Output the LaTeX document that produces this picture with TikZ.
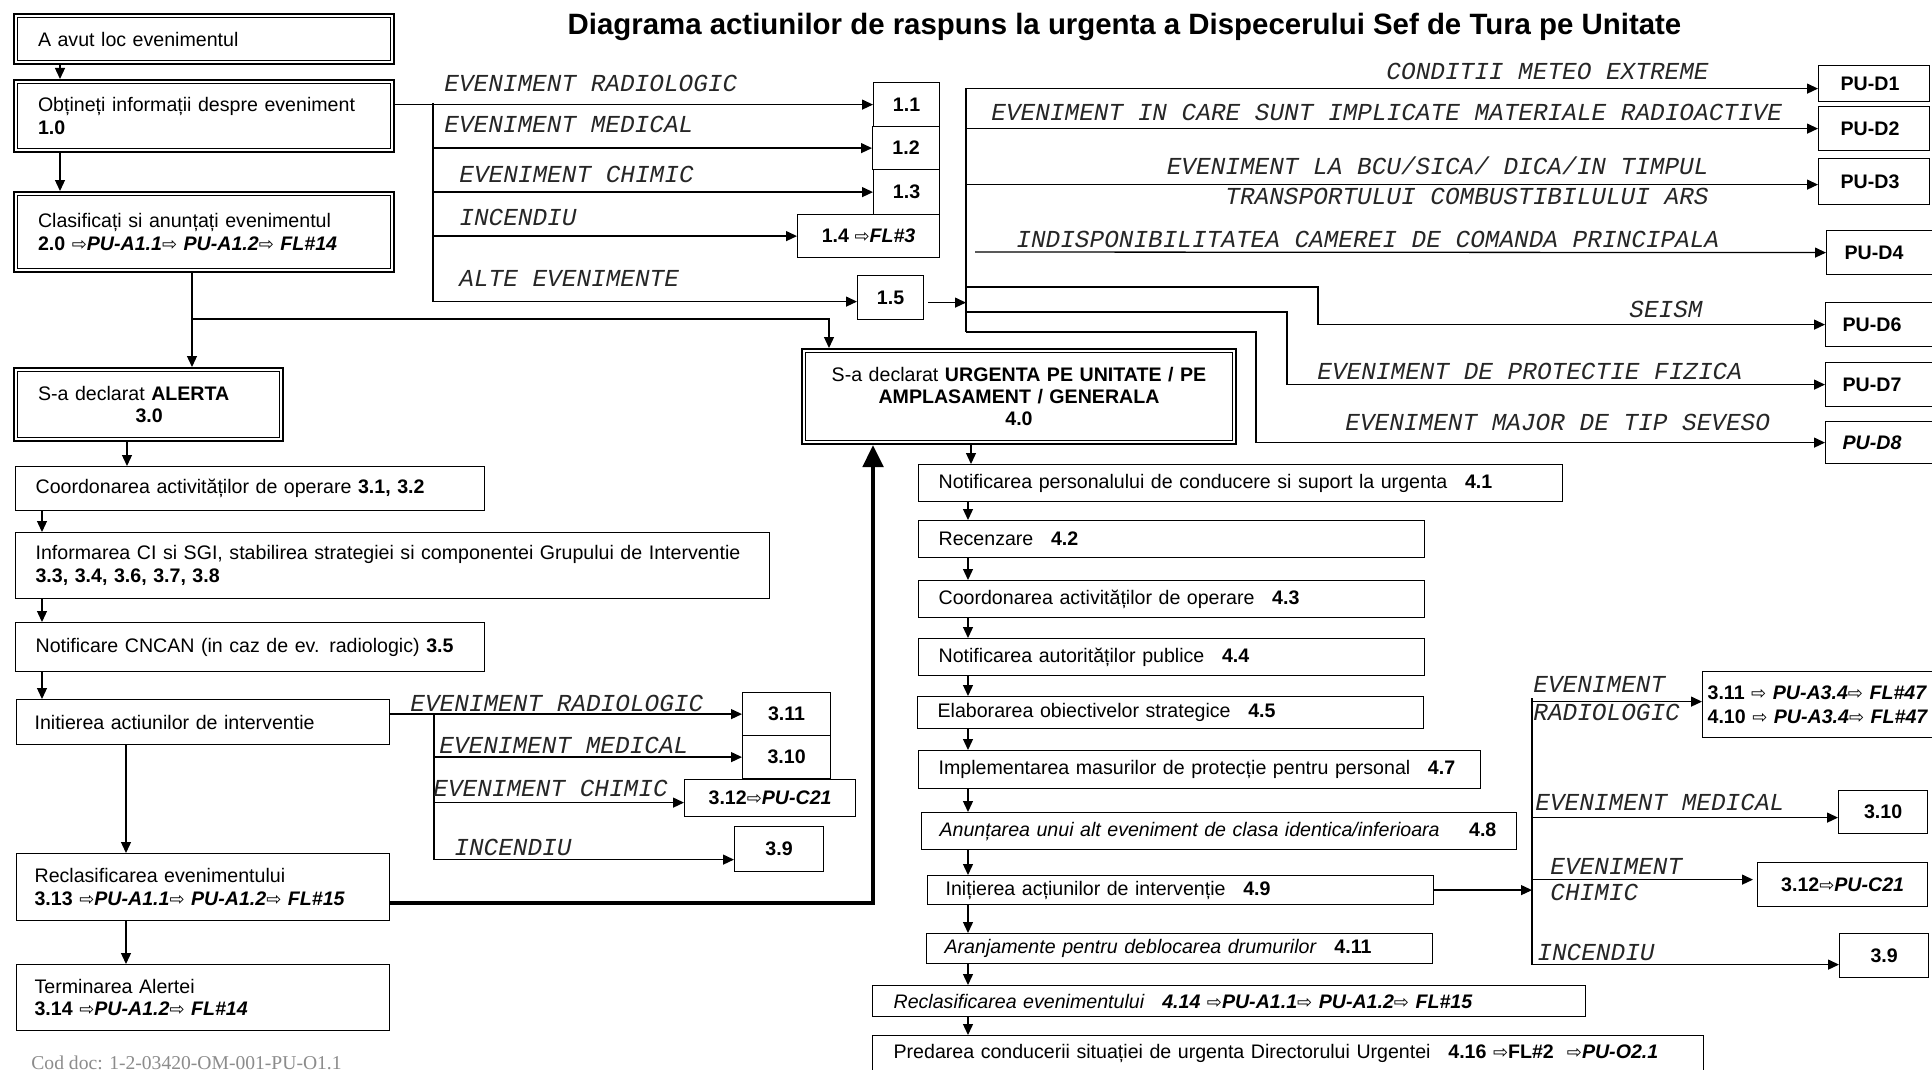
\documentclass[tikz,border=0pt]{standalone}
\usepackage{fontspec}
\setmainfont{Liberation Sans}
\newfontfamily\lblfont{Liberation Mono}
\newfontfamily\serfont{Liberation Serif}
\newfontfamily\symfont{DejaVu Sans}
\usetikzlibrary{arrows.meta}
\definecolor{codgray}{RGB}{140,140,140}
\newcommand{\wra}{{\symfont\mdseries\upshape\fontsize{9pt}{9pt}\selectfont\char"21E8}}
\newcommand{\innerbox}[1]{\draw[line width=0.5pt] ([shift={(2.25pt,-2.25pt)}]#1.north west) rectangle ([shift={(-2.25pt,2.25pt)}]#1.south east);}
\tikzset{
  every node/.style={font=\fontsize{9.8pt}{11.2pt}\selectfont},
  bx/.style n args={3}{draw, line width=0.6pt, anchor=north west, inner ysep=0pt, align=left,
     minimum height=#1, text width=#2, inner xsep=#3},
  sb/.style n args={2}{draw, line width=0.6pt, anchor=north west, inner sep=0pt, align=center,
     minimum width=#1, minimum height=#2, font=\fontsize{9.8pt}{11.2pt}\selectfont\bfseries},
  dbl/.style={line width=1pt},
  lbl/.style={inner sep=0pt, text=black!85, font=\lblfont\itshape\fontsize{12.2pt}{14pt}\selectfont},
  arr/.style={line width=0.65pt, -{Triangle[length=5.5pt,width=5pt]}},
  ln/.style={line width=0.65pt},
  thickarr/.style={line width=2.4pt, -{Triangle[length=11pt,width=10pt]}}
}
\begin{document}
\begin{tikzpicture}[x=0.5pt,y=-0.5pt]
\useasboundingbox (0,0) rectangle (1932,1070);
\clip (0,0) rectangle (1932,1070);
\fill[white] (0,0) rectangle (1932,1070);

% title
\node[anchor=base, font=\bfseries\fontsize{14.7pt}{16pt}\selectfont] (title) at (1124.5,35)
  {Diagrama actiunilor de raspuns la urgenta a Dispecerului Sef de Tura pe Unitate};

% ---------------- left column
\node[bx={25pt}{166pt}{12pt}, dbl] (n0) at (13,13) {A avut loc evenimentul};
\node[bx={36pt}{166pt}{12pt}, dbl] (n1) at (13,79) {Obțineți informații despre eveniment\\\textbf{1.0}};
\node[bx={40pt}{166pt}{12pt}, dbl] (n2) at (13,191) {Clasificați si anunțați evenimentul\\\textbf{2.0 \wra\textit{PU-A1.1}\wra\ \textit{PU-A1.2}\wra\ \textit{FL\#14}}};
\node[bx={36.5pt}{110.5pt}{12pt}, dbl] (n3) at (13,367) {S-a declarat \textbf{ALERTA}\\\hspace*{48.75pt}\textbf{3.0}};
\innerbox{n0}\innerbox{n1}\innerbox{n2}\innerbox{n3}
\node[bx={22pt}{214.5pt}{10pt}] (n4) at (15,466) {Coordonarea activităților de operare \textbf{3.1, 3.2}};
\node[bx={33pt}{357pt}{10pt}] (n5) at (15,532) {Informarea CI si SGI, stabilirea strategiei si componentei Grupului de Interventie\\\textbf{3.3, 3.4, 3.6, 3.7, 3.8}};
\node[bx={24.5pt}{214.5pt}{10pt}] (n6) at (15,622) {Notificare CNCAN (in caz de ev. radiologic) \textbf{3.5}};
\node[bx={22.5pt}{168.5pt}{9pt}] (n7) at (16,699) {Initierea actiunilor de interventie};
\node[bx={33.5pt}{168.5pt}{9pt}] (n8) at (16,853) {Reclasificarea evenimentului\\\textbf{3.13 \wra\textit{PU-A1.1}\wra\ \textit{PU-A1.2}\wra\ \textit{FL\#15}}};
\node[bx={33pt}{168.5pt}{9pt}] (n9) at (16,964) {Terminarea Alertei\\\textbf{3.14 \wra\textit{PU-A1.2}\wra\ \textit{FL\#14}}};
\node[anchor=base west, inner sep=0pt, text=codgray, font=\serfont\fontsize{9.8pt}{11pt}\selectfont] (cod) at (31,1069) {Cod doc: 1-2-03420-OM-001-PU-O1.1};

% top boxes 1.x
\node[sb={33pt}{22pt}] (n11) at (873,82) {1.1};
\node[sb={33.5pt}{21.5pt}] (n12) at (872,126) {1.2};
\node[sb={33pt}{22.5pt}] (n13) at (873,169) {1.3};
\node[sb={71pt}{21.5pt}] (n14) at (797,214) {1.4 \wra\textit{FL\#3}};
\node[sb={33pt}{22pt}] (n15) at (857,275) {1.5};

% 3.x boxes (left)
\node[sb={44pt}{21.5pt}] (n311) at (742,692) {3.11};
\node[sb={44pt}{21.5pt}] (n310) at (742,735) {3.10};
\node[sb={85.5pt}{18.5pt}] (n312) at (684,779) {\raisebox{-3pt}{3.12\wra\textit{PU-C21}}};
\node[sb={44.5pt}{22.5pt}] (n39) at (734,826) {3.9};

% 4.0 and chain
\node[bx={47.5pt}{207pt}{5pt}, dbl, align=center] (n40) at (801,348) {S-a declarat \textbf{URGENTA PE UNITATE / PE}\\\textbf{AMPLASAMENT / GENERALA}\\\textbf{4.0}};
\innerbox{n40}
\node[bx={18.5pt}{302pt}{10pt}] (n41) at (918,464) {Notificarea personalului de conducere si suport la urgenta\hspace{0.9em}\textbf{4.1}};
\node[bx={18.5pt}{233pt}{10pt}] (n42) at (918,520) {Recenzare\hspace{0.9em}\textbf{4.2}};
\node[bx={18.5pt}{233pt}{10pt}] (n43) at (918,580) {Coordonarea activităților de operare\hspace{0.9em}\textbf{4.3}};
\node[bx={18.5pt}{233pt}{10pt}] (n44) at (918,638) {Notificarea autorităților publice\hspace{0.9em}\textbf{4.4}};
\node[bx={16pt}{233pt}{10pt}] (n45) at (917,696) {Elaborarea obiectivelor strategice\hspace{0.9em}\textbf{4.5}};
\node[bx={19pt}{261pt}{10pt}] (n47) at (918,750) {Implementarea masurilor de protecție pentru personal\hspace{0.9em}\textbf{4.7}};
\node[bx={18.5pt}{279.5pt}{9pt}] (n48) at (921,812) {\textit{Anunțarea unui alt eveniment de clasa identica/inferioara}\hspace{1.5em}\textbf{4.8}};
\node[bx={14.5pt}{235pt}{9pt}] (n49) at (927,875) {Inițierea acțiunilor de intervenție\hspace{0.9em}\textbf{4.9}};
\node[bx={15pt}{235pt}{9pt}] (n411) at (926,933) {\textit{Aranjamente pentru deblocarea drumurilor}\hspace{0.9em}\textbf{4.11}};
\node[bx={15.5pt}{335.5pt}{10.5pt}] (n414) at (872,985) {\textit{Reclasificarea evenimentului}\hspace{0.9em}\textbf{\textit{4.14 \wra PU-A1.1\wra\ PU-A1.2\wra\ FL\#15}}};
\node[bx={18pt}{394.5pt}{10.5pt}] (n416) at (872,1035) {Predarea conducerii situației de urgenta Directorului Urgentei\hspace{0.9em}\textbf{4.16 \wra FL\#2 \ \wra\textit{PU-O2.1}}};

% right boxes (4.9 branches)
\node[bx={33pt}{145pt}{2.5pt}, font=\fontsize{9.8pt}{12pt}\selectfont\bfseries] (n311r) at (1702,671) {3.11 \wra\ \textit{PU-A3.4}\wra\ \textit{FL\#47}\\4.10 \wra\ \textit{PU-A3.4}\wra\ \textit{FL\#47}};
\node[sb={44.5pt}{21.5pt}] (n310r) at (1838,790) {3.10};
\node[sb={85pt}{22pt}] (n312r) at (1757,862) {3.12\wra\textit{PU-C21}};
\node[sb={44.5pt}{22pt}] (n39r) at (1839,933) {3.9};

% PU-D boxes
\node[bx={18pt}{33.5pt}{11pt}, font=\fontsize{9.8pt}{11.2pt}\selectfont\bfseries] (nD1) at (1818,65) {PU-D1};
\node[bx={22pt}{33.5pt}{11pt}, font=\fontsize{9.8pt}{11.2pt}\selectfont\bfseries] (nD2) at (1818,106) {PU-D2};
\node[bx={23pt}{33.5pt}{11pt}, font=\fontsize{9.8pt}{11.2pt}\selectfont\bfseries] (nD3) at (1818,158) {PU-D3};
\node[bx={22pt}{47pt}{9pt}, font=\fontsize{9.8pt}{11.2pt}\selectfont\bfseries] (nD4) at (1826,230) {PU-D4};
\node[bx={22pt}{48pt}{8.5pt}, font=\fontsize{9.8pt}{11.2pt}\selectfont\bfseries] (nD6) at (1825,302) {PU-D6};
\node[bx={22pt}{48pt}{8.5pt}, font=\fontsize{9.8pt}{11.2pt}\selectfont\bfseries] (nD7) at (1825,362) {PU-D7};
\node[bx={21pt}{48pt}{8.5pt}, font=\fontsize{9.8pt}{11.2pt}\selectfont\bfseries\itshape] (nD8) at (1825,421) {PU-D8};

% ---------------- connectors, left column
\coordinate (x60) at (60,0);
\draw[arr] (n0.south -| x60) -- (n1.north -| x60);
\draw[arr] (n1.south -| x60) -- (n2.north -| x60);
\coordinate (j1) at (192,319);
\coordinate (j2) at (829,319);
\draw[ln] (n2.south -| j1) -- (j1);
\draw[arr] (j1) -- (n3.north -| j1);
\draw[arr] (j1) -- (j2) -- (n40.north -| j2);
\coordinate (x127) at (127,0);
\draw[arr] (n3.south -| x127) -- (n4.north -| x127);
\coordinate (x42) at (42,0);
\draw[arr] (n4.south -| x42) -- (n5.north -| x42);
\draw[arr] (n5.south -| x42) -- (n6.north -| x42);
\draw[arr] (n6.south -| x42) -- (n7.north -| x42);
\coordinate (x126) at (126,0);
\draw[arr] (n7.south -| x126) -- (n8.north -| x126);
\draw[arr] (n8.south -| x126) -- (n9.north -| x126);
\coordinate (t2) at (873,903);
\draw[thickarr] (n8.east |- t2) -- (t2) -- (n40.south -| t2);

% 1.x branches
\coordinate (v1) at (433,103);
\coordinate (e15w) at ([yshift=-2pt]n15.west);
\draw[arr] (n1.east |- n11.west) -- (n11.west);
\draw[ln] (v1) -- (v1 |- e15w);
\draw[arr] (v1 |- n12.west) -- (n12.west);
\draw[arr] (v1 |- n13.west) -- (n13.west);
\draw[arr] (v1 |- n14.west) -- (n14.west);
\draw[arr] (v1 |- e15w) -- (e15w);
\node[lbl, anchor=base west] (l11) at (444,92) {EVENIMENT RADIOLOGIC};
\node[lbl, anchor=base west] (l12) at (444,133) {EVENIMENT MEDICAL};
\node[lbl, anchor=base west] (l13) at (459,183) {EVENIMENT CHIMIC};
\node[lbl, anchor=base west] (l14) at (459,225) {INCENDIU};
\node[lbl, anchor=base west] (l15) at (459,286) {ALTE EVENIMENTE};

% PU-D branches
\coordinate (v2t) at (966,88);
\coordinate (s8) at (966,332);
\coordinate (e15e) at ([yshift=-2.5pt]n15.east);
\draw[arr] ([xshift=2pt]e15e) -- (e15e -| v2t);
\draw[ln] (v2t) -- (s8);
\coordinate (eD1) at ([yshift=-2.5pt]nD1.west);
\draw[arr] (v2t |- eD1) -- (eD1);
\draw[arr] (v2t |- nD2.west) -- (nD2.west);
\coordinate (eD3) at ([yshift=-1.5pt]nD3.west);
\draw[arr] (v2t |- eD3) -- (eD3);
\coordinate (d4s) at (975,252);
\draw[arr] (d4s) -- (nD4.west);
\coordinate (s6) at (966,287); \coordinate (k6) at (1318,287);
\draw[arr] (s6) -- (k6) |- (nD6.west);
\coordinate (s7) at (966,312); \coordinate (k7) at (1287,312);
\draw[arr] (s7) -- (k7) |- (nD7.west);
\coordinate (k8) at (1256,332);
\draw[arr] (s8) -- (k8) |- (nD8.west);
\node[lbl, anchor=base east] (lD1) at (1709,80) {CONDITII METEO EXTREME};
\node[lbl, anchor=base west] (lD2) at (991,120) {EVENIMENT IN CARE SUNT IMPLICATE MATERIALE RADIOACTIVE};
\node[lbl, anchor=base east] (lD3a) at (1709,175) {EVENIMENT LA BCU/SICA/ DICA/IN TIMPUL};
\node[lbl, anchor=base east] (lD3b) at (1709,204) {TRANSPORTULUI COMBUSTIBILULUI ARS};
\node[lbl, anchor=base west] (lD4) at (1016,247) {INDISPONIBILITATEA CAMEREI DE COMANDA PRINCIPALA};
\node[lbl, anchor=base east] (lD6) at (1703,317) {SEISM};
\node[lbl, anchor=base west] (lD7) at (1317,379) {EVENIMENT DE PROTECTIE FIZICA};
\node[lbl, anchor=base west] (lD8) at (1345,430) {EVENIMENT MAJOR DE TIP SEVESO};

% 4.x chain arrows
\coordinate (x971) at (971,0);
\coordinate (x968) at (968,0);
\draw[arr] (n40.south -| x971) -- (n41.north -| x971);
\foreach \a/\b in {n41/n42,n42/n43,n43/n44,n44/n45,n45/n47,n47/n48,n48/n49,n49/n411,n411/n414,n414/n416}
  \draw[arr] (\a.south -| x968) -- (\b.north -| x968);

% 3.x branches (left)
\coordinate (v3t) at (434,713);
\coordinate (e312) at ([yshift=-2.25pt]n312.west);
\coordinate (e39) at ([yshift=-5.25pt]n39.west);
\draw[arr] (n7.east |- n311.west) -- (n311.west);
\draw[ln] (v3t) -- (v3t |- e39);
\draw[arr] (v3t |- n310.west) -- (n310.west);
\draw[arr] (v3t |- e312) -- (e312);
\draw[arr] (v3t |- e39) -- (e39);
\node[lbl, anchor=base west] (l311) at (410,711) {EVENIMENT RADIOLOGIC};
\node[lbl, anchor=base west] (l310) at (439,753) {EVENIMENT MEDICAL};
\node[lbl, anchor=base west] (l312) at (433,796) {EVENIMENT CHIMIC};
\node[lbl, anchor=base west] (l39) at (454,855) {INCENDIU};

% 4.9 branches (right)
\coordinate (v4t) at (1532,698);
\coordinate (e311r) at ([yshift=1.5pt]n311r.west);
\coordinate (e310r) at ([yshift=-2.75pt]n310r.west);
\coordinate (e312r) at ([yshift=2.5pt]n312r.west);
\coordinate (e39r) at ([yshift=-4.5pt]n39r.west);
\draw[arr] (n49.east) -- (n49.east -| v4t);
\draw[ln] (v4t) -- (v4t |- e39r);
\draw[arr] (v4t |- e311r) -- (e311r);
\draw[arr] (v4t |- e310r) -- (e310r);
\draw[arr] (v4t |- e312r) -- ([xshift=-2pt]e312r);
\draw[arr] (v4t |- e39r) -- (e39r);
\node[lbl, anchor=base west] (r1a) at (1533,692) {EVENIMENT};
\node[lbl, anchor=base west] (r1b) at (1533,720) {RADIOLOGIC};
\node[lbl, anchor=base west] (r2) at (1535,810) {EVENIMENT MEDICAL};
\node[lbl, anchor=base west] (r3a) at (1550,874) {EVENIMENT};
\node[lbl, anchor=base west] (r3b) at (1550,900) {CHIMIC};
\node[lbl, anchor=base west] (r4) at (1537,960) {INCENDIU};
\end{tikzpicture}
\end{document}
